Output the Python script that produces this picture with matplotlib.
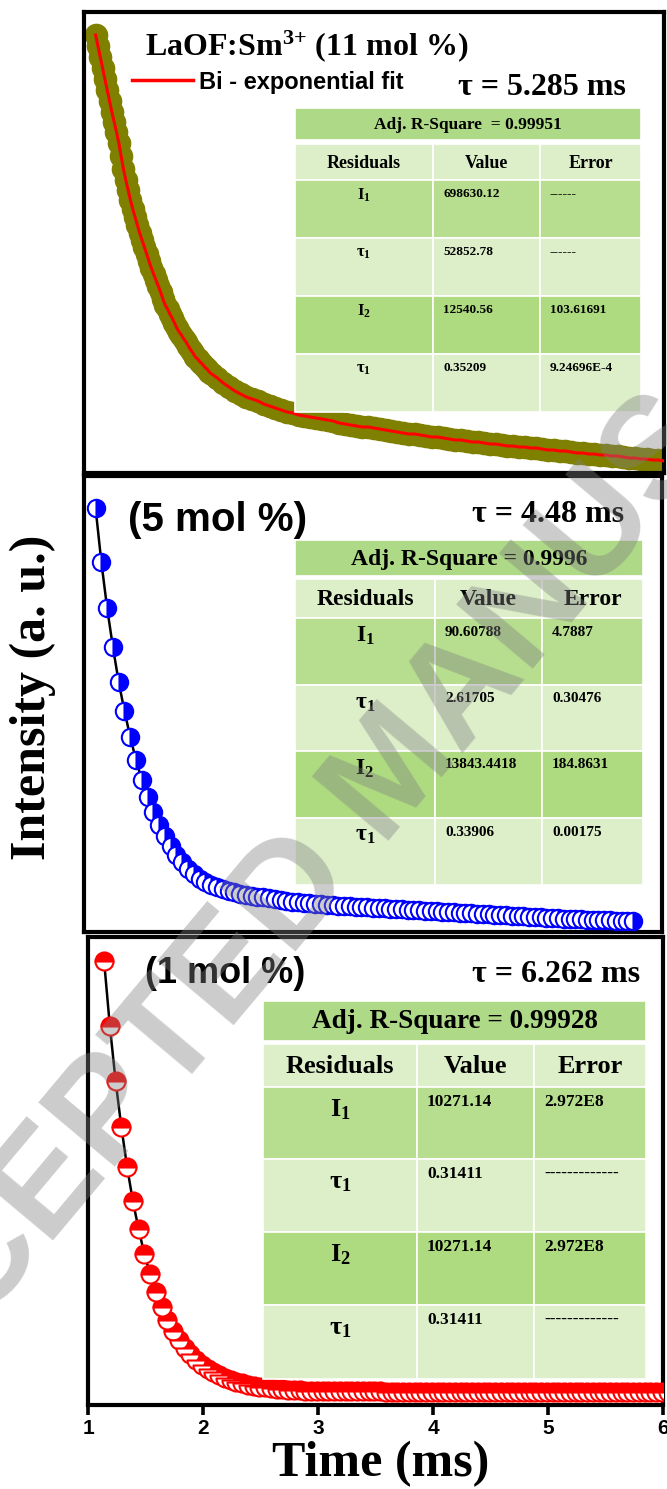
import numpy as np
import matplotlib
matplotlib.use("Agg")
import matplotlib.pyplot as plt
from matplotlib.patches import Rectangle
from matplotlib.lines import Line2D
from matplotlib.transforms import Affine2D

plt.rcParams["mathtext.fontset"] = "custom"
plt.rcParams["mathtext.rm"] = "Liberation Serif:bold"
plt.rcParams["mathtext.it"] = "Liberation Serif:bold"
plt.rcParams["mathtext.bf"] = "Liberation Serif:bold"
plt.rcParams["mathtext.default"] = "rm"

SERIF = "Liberation Serif"
SANS = "Liberation Sans"

# ---------------- decay data (time in ms, intensity in a.u.) ----------------
# LaOF:Sm3+ 11 mol %  (finer sampling over the steep part)
t_11 = np.concatenate([np.round(1.10 + 0.02 * np.arange(51), 2),
                       np.round(2.15 + 0.05 * np.arange(78), 2)])
I_11 = [438, 427, 416, 405, 394, 383, 372, 361, 351, 341, 330, 317, 304, 293, 283,
        273, 264, 256, 248, 240, 233, 226, 219, 212, 205, 199, 193, 187, 181, 174,
        168, 164, 159, 155, 150, 145, 141, 138, 134, 131, 127, 123, 120, 116, 114,
        111, 109, 106, 104, 101, 99,
        95, 90, 86, 82, 79, 76, 74, 72, 69, 67, 65, 63, 61, 60, 58, 57, 56, 55, 54,
        53, 52, 50, 49, 48, 47, 46, 46, 45, 44, 43, 42, 41, 40, 39, 39, 38, 37, 36,
        36, 35, 34, 33, 33, 32, 31, 31, 30, 29, 29, 28, 27, 27, 26, 26, 25, 25, 24,
        23, 23, 22, 22, 21, 20, 20, 19, 19, 18, 18, 17, 17, 16, 15, 15, 14, 14, 13,
        13, 12]

# 5 mol %
I_5 = [424, 370, 324, 285, 250, 221, 195, 172, 152, 135, 120, 107, 96, 86, 77, 70,
       63, 58, 53, 50, 47, 45, 43, 41, 40, 38, 37, 36, 35, 34.5, 34, 33, 32, 31, 30,
       29.5, 29, 28.5, 28, 27.5, 27, 26.7, 26.4, 26, 25.7, 25.4, 25, 24.7, 24.4, 24,
       23.7, 23.4, 23, 22.7, 22.4, 22, 21.7, 21.4, 21, 20.7, 20.4, 20, 19.7, 19.4,
       19, 18.7, 18.4, 18, 17.7, 17.4, 17, 16.7, 16.4, 16, 15.7, 15.4, 15, 14.7,
       14.4, 14, 13.7, 13.4, 13, 12.8, 12.6, 12.4, 12.2, 12, 11.8, 11.6, 11.4, 11.2,
       11, 10.8]
t_5 = np.round(1.10 + 0.05 * np.arange(len(I_5)), 2)

# 1 mol %
I_1 = [444, 379, 324, 278, 238, 204, 176, 151, 131, 113, 98, 85, 74, 65, 57, 51, 45,
       40, 36, 33, 30, 27, 25, 23, 22, 20.5, 19.4, 18.4, 17.6, 16.9, 16.3, 15.8, 15.4,
       15.0, 14.7, 14.5, 14.3, 14.1, 14.0, 13.9, 13.8, 13.8, 13.8, 13.7, 13.7, 13.7,
       13.6, 13.6, 13.6, 13.5, 13.5, 13.5, 13.5, 13.4, 13.4, 13.4, 13.4, 13.3, 13.3,
       13.3, 13.3, 13.3, 13.2, 13.2, 13.2, 13.2, 13.2, 13.1, 13.1, 13.1, 13.1, 13.1,
       13.1, 13.0, 13.0, 13.0, 13.0, 13.0, 13.0, 13.0, 12.9, 12.9, 12.9, 12.9, 12.9,
       12.9, 12.9, 12.9, 12.8, 12.8, 12.8, 12.8, 12.8, 12.8, 12.8, 12.8, 12.8, 12.8,
       12.8]
t_1 = np.round(1.14 + 0.05 * np.arange(len(I_1)), 2)

x_ticks = [1, 2, 3, 4, 5, 6]

# fit summaries
lifetimes = ["5.285", "4.48", "6.262"]
adj_labels = ["Adj. R-Square  = 0.99951", "Adj. R-Square = 0.9996",
              "Adj. R-Square = 0.99928"]
row_labels = ["I$_{1}$", "\u03c4$_{1}$", "I$_{2}$", "\u03c4$_{1}$"]
values_11 = ["698630.12", "52852.78", "12540.56", "0.35209"]
errors_11 = ["------", "------", "103.61691", "9.24696E-4"]
values_5 = ["90.60788", "2.61705", "13843.4418", "0.33906"]
errors_5 = ["4.7887", "0.30476", "184.8631", "0.00175"]
values_1 = ["10271.14", "0.31411", "10271.14", "0.31411"]
errors_1 = ["2.972E8", "-------------", "2.972E8", "-------------"]

# ---------------- figure ----------------
W, H = 667, 1489
fig = plt.figure(figsize=(W / 100, H / 100), dpi=100)
px = Affine2D().scale(1 / W, -1 / H).translate(0, 1) + fig.transFigure


def axes_px(l, t, r, b):
    return fig.add_axes([l / W, 1 - b / H, (r - l) / W, (b - t) / H])


ax1 = axes_px(84, 12, 664, 473)
ax2 = axes_px(84, 476, 662, 932)
ax3 = axes_px(88, 937, 663, 1405)

for ax in (ax1, ax2, ax3):
    ax.set_xlim(1, 6)
    ax.set_yticks([])
    for s in ax.spines.values():
        s.set_linewidth(3.0)
        s.set_color("black")
    ax.set_facecolor("white")

ax1.set_ylim(0, 461)
ax2.set_ylim(0, 456)
ax3.set_ylim(0, 468)

for ax in (ax1, ax2):
    ax.set_xticks(x_ticks)
    ax.tick_params(axis="x", which="both", bottom=False, labelbottom=False)

ax3.set_xticks(x_ticks)
ax3.set_xticklabels([str(v) for v in x_ticks], family=SANS, weight="bold", fontsize=15)
ax3.tick_params(axis="x", which="major", direction="out", length=7, width=2.6, pad=3)

# 11 mol %: dense olive band with red bi-exponential fit
ax1.plot(t_11, I_11, "o", ms=16, mfc="#808000", mec="#808000", mew=1, zorder=2)
ax1.plot(t_11, I_11, "-", color="#ff0000", lw=2.2, zorder=3)

# 5 mol %: half-filled blue circles with black fit line
ax2.plot(t_5, I_5, "-", color="black", lw=1.8, zorder=2)
ax2.plot(t_5, I_5, "o", ms=12.5, fillstyle="right", mfc="#0000ff", mfcalt="white",
         mec="#0000ff", mew=1.5, zorder=3)

# 1 mol %: half-filled red circles with black fit line
ax3.plot(t_1, I_1, "-", color="black", lw=1.8, zorder=2)
ax3.plot(t_1, I_1, "o", ms=13, fillstyle="top", mfc="#ff0000", mfcalt="white",
         mec="#ff0000", mew=1.5, zorder=3)

# legend of the fit curve
ax1.legend(handles=[Line2D([], [], color="#ff0000", lw=2.5)],
           labels=["Bi - exponential fit"], loc="center left",
           bbox_to_anchor=(0.082, 0.848), frameon=False, handlelength=2.6,
           handletextpad=0.25, borderpad=0, borderaxespad=0,
           prop={"family": SANS, "weight": "bold", "size": 17})

# panel captions
fig.text(145, 55, "LaOF:Sm$^{3{+}}$ (11 mol %)", transform=px, family=SERIF,
         weight="bold", fontsize=23, ha="left", va="baseline")
fig.text(128, 531, "(5 mol %)", transform=px, family=SANS, weight="bold",
         fontsize=29, ha="left", va="baseline")
fig.text(145, 983, "(1 mol %)", transform=px, family=SANS, weight="bold",
         fontsize=26, ha="left", va="baseline")
for (x, y, fs), tau in zip([(458, 95, 23), (472, 522, 23), (472, 982, 23)], lifetimes):
    fig.text(x, y, "\u03c4 = " + tau + " ms", transform=px, family=SERIF,
             weight="bold", fontsize=fs, ha="left", va="baseline")

# ---------------- fit tables ----------------
C_TOP = "#aed986"
C_DARK1 = "#b6de8e"
C_DARK2 = "#aedb80"
C_LIGHT = "#dcefc9"


def draw_table(cols, adj_rows, rows, adj_text, values, errors, fs_adj, fs_head,
               fs_lab, fs_val, lab_off, val_off):
    x0, c1, c2, x1 = cols
    fig.add_artist(Rectangle((x0, adj_rows[0]), x1 - x0, adj_rows[1] - adj_rows[0],
                             transform=px, facecolor=C_TOP, edgecolor="white", lw=1.2,
                             zorder=4))
    fig.text((x0 + x1) / 2, (adj_rows[0] + adj_rows[1]) / 2 + 1, adj_text,
             transform=px, family=SERIF, weight="bold", fontsize=fs_adj, ha="center",
             va="center", zorder=5)
    fills = [C_LIGHT, C_DARK1, C_LIGHT, C_DARK2, C_LIGHT]
    edges = [x0, c1, c2, x1]
    for i, (ya, yb) in enumerate(rows):
        for j in range(3):
            fig.add_artist(Rectangle((edges[j], ya), edges[j + 1] - edges[j], yb - ya,
                                     transform=px, facecolor=fills[i],
                                     edgecolor="white", lw=1.2, zorder=4))
    ya, yb = rows[0]
    for j, head in enumerate(["Residuals", "Value", "Error"]):
        fig.text((edges[j] + edges[j + 1]) / 2, (ya + yb) / 2 + 1, head, transform=px,
                 family=SERIF, weight="bold", fontsize=fs_head, ha="center",
                 va="center", zorder=5)
    for i, (ya, yb) in enumerate(rows[1:]):
        fig.text((x0 + c1) / 2, ya + lab_off, row_labels[i], transform=px,
                 family=SERIF, weight="bold", fontsize=fs_lab, ha="center",
                 va="center", zorder=5)
        fig.text(c1 + 10, ya + val_off, values[i], transform=px, family=SERIF,
                 weight="bold", fontsize=fs_val, ha="left", va="center", zorder=5)
        fig.text(c2 + 10, ya + val_off, errors[i], transform=px, family=SERIF,
                 weight="bold", fontsize=fs_val, ha="left", va="center", zorder=5)


draw_table((295, 433, 540, 641), (108, 140),
           [(144, 180), (180, 238), (238, 296), (296, 354), (354, 412)],
           adj_labels[0], values_11, errors_11, 12.5, 13, 12, 9.5, 15, 14)
draw_table((295, 435, 542, 643), (540, 576),
           [(579, 618), (618, 685), (685, 751), (751, 818), (818, 885)],
           adj_labels[1], values_5, errors_5, 17, 17, 17, 11, 18, 14)
draw_table((263, 417, 534, 646), (1001, 1041),
           [(1044, 1087), (1087, 1159), (1159, 1232), (1232, 1305), (1305, 1379)],
           adj_labels[2], values_1, errors_1, 19.5, 19, 19, 12.5, 23, 15)

# axis titles
fig.text(33, 697, "Intensity (a. u.)", transform=px, family=SERIF, weight="bold",
         fontsize=36, rotation=90, ha="center", va="center")
fig.text(381, 1476, "Time (ms)", transform=px, family=SERIF, weight="bold",
         fontsize=36, ha="center", va="baseline")

# journal watermark
fig.text(395, 775, "ACCEPTED MANUSCRIPT", transform=px, family=SANS, weight="bold",
         fontsize=104, rotation=50, ha="center", va="center", color="#808080",
         alpha=0.4, zorder=10)

fig.savefig("out.png", dpi=100)
